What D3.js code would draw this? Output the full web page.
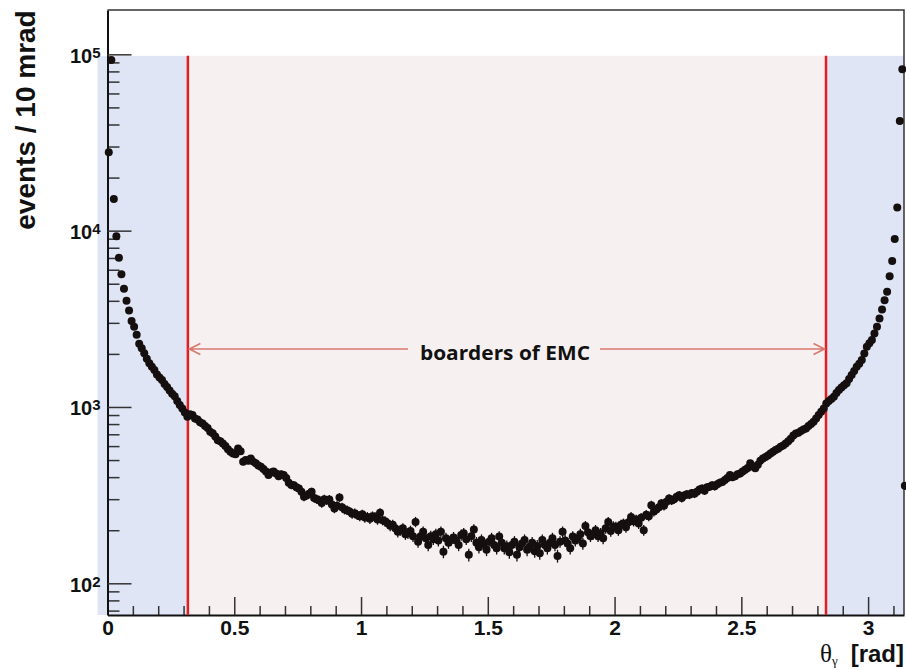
<!DOCTYPE html>
<html>
<head>
<meta charset="utf-8">
<script src="https://cdn.jsdelivr.net/npm/d3@7"></script>
<style>
    body { margin: 0; background: #fff; }
    text { font-family: "Liberation Sans", Arial, sans-serif; font-weight: bold; fill: #111; }
</style>
</head>
<body>
<div id="chart"></div>
<script>
// events per 10 mrad bin, bin i covers [i*0.01, (i+1)*0.01)
var binWidth = 0.01;
var counts = [
    27800, 93000, 15100, 9300, 7010, 5650, 4680, 4000, 3530, 3070,
    2850, 2570, 2280, 2150, 2015, 1880, 1770, 1690, 1620, 1530,
    1470, 1420, 1350, 1300, 1240, 1190, 1150, 1080, 1025, 980,
    930, 880, 910, 900, 860, 850, 820, 807, 780, 760,
    723, 710, 680, 648, 640, 621, 600, 575, 557, 545,
    540, 582, 560, 489, 500, 495, 511, 490, 480, 465,
    458, 445, 430, 411, 425, 430, 420, 405, 415, 411,
    395, 372, 361, 360, 350, 345, 330, 310, 315, 322,
    330, 305, 300, 296, 285, 300, 295, 299, 280, 266,
    275, 307, 270, 262, 260, 255, 248, 250, 244, 240,
    246, 236, 238, 232, 240, 238, 230, 251, 228, 225,
    219, 212, 215, 205, 196, 200, 205, 190, 192, 198,
    185, 223, 172, 185, 196, 180, 165, 185, 178, 190,
    175, 196, 151, 180, 170, 176, 182, 175, 165, 188,
    192, 178, 145, 185, 202, 170, 160, 176, 168, 155,
    172, 180, 165, 158, 184, 170, 158, 162, 150, 165,
    172, 145, 160, 168, 176, 155, 161, 170, 152, 163,
    148, 176, 165, 158, 170, 180, 165, 143, 172, 196,
    175, 168, 158, 184, 175, 180, 190, 168, 211, 195,
    185, 190, 200, 185, 192, 180, 205, 223, 198, 210,
    209, 200, 215, 218, 208, 222, 238, 225, 230, 218,
    235, 200, 245, 240, 277, 255, 262, 270, 284, 275,
    290, 303, 295, 300, 310, 316, 305, 315, 320, 318,
    325, 322, 330, 340, 345, 335, 350, 353, 360, 355,
    365, 372, 376, 385, 395, 411, 400, 405, 415, 420,
    430, 440, 450, 479, 460, 449, 470, 495, 511, 520,
    530, 545, 557, 570, 580, 595, 605, 621, 640, 660,
    690, 707, 715, 730, 745, 755, 780, 800, 824, 860,
    900, 940, 980, 1047, 1080, 1110, 1142, 1200, 1248, 1290,
    1330, 1361, 1440, 1518, 1600, 1691, 1760, 1845, 2013, 2195,
    2300, 2395, 2612, 2850, 3180, 3570, 4035, 4500, 5520, 6720,
    8960, 13550, 41900, 82200, 357
];
var xMajorTicks = [0, 0.5, 1, 1.5, 2, 2.5, 3];
var xTickLabels = ["0", "0.5", "1", "1.5", "2", "2.5", "3"];
var yExponents = [2, 3, 4, 5];
var emcBorders = [0.317, 2.834];
var bandTop = 9.8e4;
var arrowLevel = 2130;
var arrowLabel = "boarders of EMC";

var W = 906, H = 670;
var margin = {top: 10, right: 2, bottom: 55, left: 107.5};

var svg = d3.select("#chart").append("svg")
    .attr("width", W)
    .attr("height", H);

var x = d3.scaleLinear().domain([0, Math.PI]).range([margin.left, W - margin.right]);
var y = d3.scaleLog().domain([66.1, 178400]).range([H - margin.bottom, margin.top]);

var x0 = x.range()[0], x1 = x.range()[1];
var yBot = y.range()[0], yTop = y.range()[1];

// shaded regions: outside EMC (blue) and inside (pink)
svg.append("rect")
    .attr("x", x0 - 10).attr("y", y(bandTop))
    .attr("width", x(emcBorders[0]) - x0 + 10).attr("height", yBot - y(bandTop))
    .attr("fill", "#dfe5f4");
svg.append("rect")
    .attr("x", x(emcBorders[0])).attr("y", y(bandTop))
    .attr("width", x(emcBorders[1]) - x(emcBorders[0])).attr("height", yBot - y(bandTop))
    .attr("fill", "#f6f0f0");
svg.append("rect")
    .attr("x", x(emcBorders[1])).attr("y", y(bandTop))
    .attr("width", x1 - x(emcBorders[1])).attr("height", yBot - y(bandTop))
    .attr("fill", "#dfe5f4");

// frame top / right
svg.append("path")
    .attr("d", "M" + x0 + "," + yTop + "H" + x1 + "V" + yBot)
    .attr("fill", "none").attr("stroke", "#333").attr("stroke-width", 1.5);

// x axis: minor and major ticks pointing inward
var xMinor = d3.range(1, 32).map(function(i) { return i / 10; })
    .filter(function(v) { return Math.round(v * 10) % 5 !== 0; });
svg.append("g")
    .attr("transform", "translate(0," + yBot + ")")
    .call(d3.axisBottom(x).tickValues(xMinor).tickSize(-9).tickSizeOuter(0).tickFormat(""))
    .call(function(g) { g.select(".domain").remove(); })
    .selectAll("line").attr("stroke", "#333").attr("stroke-width", 1.5);

var xAxis = svg.append("g")
    .attr("transform", "translate(0," + yBot + ")")
    .call(d3.axisBottom(x).tickValues(xMajorTicks).tickSize(-18).tickSizeOuter(0).tickPadding(5)
        .tickFormat(function(d, i) { return xTickLabels[i]; }));
xAxis.select(".domain").attr("stroke", "#111").attr("stroke-width", 2);
xAxis.selectAll("line").attr("stroke", "#333").attr("stroke-width", 1.5);
xAxis.selectAll("text").attr("font-size", 21)
    .style("font-family", '"Liberation Sans", Arial, sans-serif').style("font-weight", "bold").attr("fill", "#111");

// y axis: log ticks
var yMinor = [];
[1, 2, 3, 4, 5].forEach(function(k) {
    for (var m = 2; m <= 9; m++) {
        var v = m * Math.pow(10, k);
        if (v > y.domain()[0] && v < y.domain()[1]) yMinor.push(v);
    }
});
svg.append("g")
    .attr("transform", "translate(" + x0 + ",0)")
    .call(d3.axisLeft(y).tickValues(yMinor).tickSize(-12).tickSizeOuter(0).tickFormat(""))
    .call(function(g) { g.select(".domain").remove(); })
    .selectAll("line").attr("stroke", "#333").attr("stroke-width", 1.5);

var yAxis = svg.append("g")
    .attr("transform", "translate(" + x0 + ",0)")
    .call(d3.axisLeft(y).tickValues(yExponents.map(function(e) { return Math.pow(10, e); }))
        .tickSize(-24).tickSizeOuter(0).tickFormat(""));
yAxis.select(".domain").attr("stroke", "#111").attr("stroke-width", 2);
yAxis.selectAll("line").attr("stroke", "#333").attr("stroke-width", 1.5);

var yLab = svg.selectAll(".ylab")
    .data(yExponents)
    .enter().append("text")
    .attr("class", "ylab")
    .attr("x", x0 - 7)
    .attr("y", function(e) { return y(Math.pow(10, e)) + 8.5; })
    .attr("text-anchor", "end")
    .attr("font-size", 20);
yLab.append("tspan").text("10");
yLab.append("tspan").attr("font-size", 15).attr("dy", -5).text(function(e) { return e; });

// axis titles
svg.append("text")
    .attr("transform", "translate(35," + 120 + ") rotate(-90)")
    .attr("text-anchor", "middle")
    .attr("font-size", 28)
    .text("events / 10 mrad");

var xt = svg.append("text")
    .attr("x", x1)
    .attr("y", 662)
    .attr("text-anchor", "end");
xt.append("tspan").style("font-family", '"Liberation Serif", "DejaVu Serif", serif').style("font-weight", "normal")
    .attr("font-size", 25).text("θ");
xt.append("tspan").style("font-family", '"Liberation Serif", "DejaVu Serif", serif').style("font-weight", "normal")
    .attr("font-size", 13).attr("dy", 3).text("γ");
xt.append("tspan").attr("font-size", 24).attr("dy", -3).attr("dx", 13).text("[rad]");

// EMC borders
svg.selectAll(".emc")
    .data(emcBorders)
    .enter().append("line")
    .attr("class", "emc")
    .attr("x1", function(d) { return x(d); }).attr("x2", function(d) { return x(d); })
    .attr("y1", y(bandTop)).attr("y2", yBot)
    .attr("stroke", "#e41d22").attr("stroke-width", 2.5);

// double arrow with label
var ay = y(arrowLevel);
var xa = x(emcBorders[0]) + 1.5, xb = x(emcBorders[1]) - 1.5;
var lx = (xa + xb) / 2 - 2;
svg.append("text")
    .attr("x", lx)
    .attr("y", ay + 10.5)
    .attr("text-anchor", "middle")
    .attr("font-size", 19)
    .attr("textLength", 170)
    .attr("lengthAdjust", "spacingAndGlyphs")
    .style("font-family", '"Open Sans", "Liberation Sans", sans-serif')
    .text(arrowLabel);
var arrowColor = "#d9786f";
svg.append("path")
    .attr("d", "M" + xa + "," + ay + "H" + (lx - 97) +
        "M" + (lx + 95) + "," + ay + "H" + xb +
        "M" + (xa + 11) + "," + (ay - 5.5) + "L" + xa + "," + ay + "L" + (xa + 11) + "," + (ay + 5.5) +
        "M" + (xb - 11) + "," + (ay - 5.5) + "L" + xb + "," + ay + "L" + (xb - 11) + "," + (ay + 5.5))
    .attr("fill", "none").attr("stroke", arrowColor).attr("stroke-width", 1.6);

// data points with sqrt(N) error bars
var pts = svg.append("g").selectAll("g")
    .data(counts)
    .enter().append("g");
pts.append("line")
    .attr("x1", function(d, i) { return x((i + 0.5) * binWidth); })
    .attr("x2", function(d, i) { return x((i + 0.5) * binWidth); })
    .attr("y1", function(d) { return y(d + Math.sqrt(d)); })
    .attr("y2", function(d) { return y(Math.max(d - Math.sqrt(d), 1)); })
    .attr("stroke", "#150f0f").attr("stroke-width", 1.3);
pts.append("circle")
    .attr("cx", function(d, i) { return x((i + 0.5) * binWidth); })
    .attr("cy", function(d) { return y(d); })
    .attr("r", 4)
    .attr("fill", "#150f0f");
</script>
</body>
</html>
